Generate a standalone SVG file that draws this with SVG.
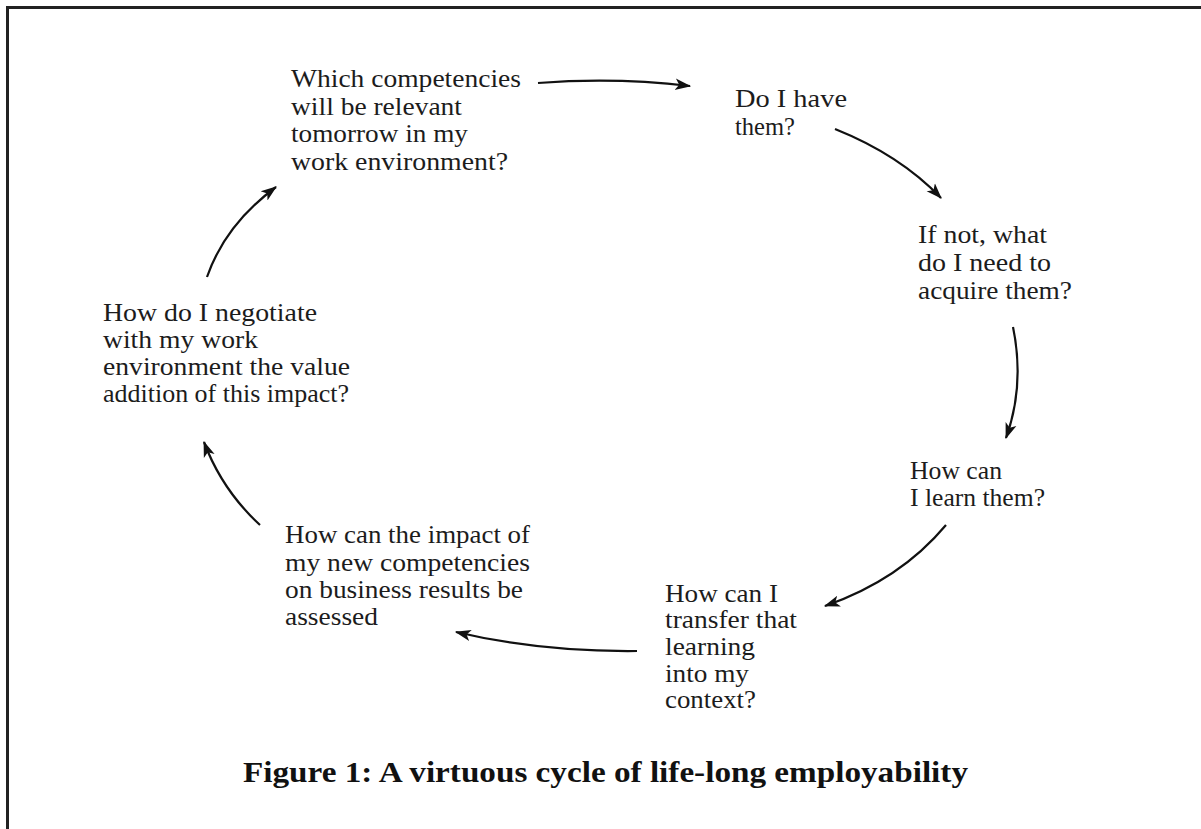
<svg xmlns="http://www.w3.org/2000/svg" width="1201" height="829" viewBox="0 0 1201 829">
<style>
.t{font-family:"Liberation Serif","Times New Roman",serif;font-size:25px;fill:#1c1c1c}
.cap{font-family:"Liberation Serif","Times New Roman",serif;font-size:29px;font-weight:bold;fill:#111}
.c{fill:none;stroke:#111;stroke-width:2.2}
</style>
<defs>
<marker id="ah" markerWidth="16" markerHeight="13" refX="13" refY="5" orient="auto" markerUnits="userSpaceOnUse" viewBox="0 0 14 10">
<path d="M0,0 L14,5 L0,10 L3.5,5 z" fill="#111"/>
</marker>
</defs>
<rect width="1201" height="829" fill="#fff"/>
<g id="border" stroke="#222" stroke-width="3">
<line x1="6" y1="7.5" x2="1201" y2="7.5"/>
<line x1="7.5" y1="6" x2="7.5" y2="829"/>
</g>
<g id="connectors">
<path class="c" d="M538,83 Q615,77 690,86" marker-end="url(#ah)"/>
<path class="c" d="M835,129 Q900,155 941,198" marker-end="url(#ah)"/>
<path class="c" d="M1013,327 Q1025,385 1006,438" marker-end="url(#ah)"/>
<path class="c" d="M946,525 Q900,580 825,606" marker-end="url(#ah)"/>
<path class="c" d="M637,651 Q540,652 456,632" marker-end="url(#ah)"/>
<path class="c" d="M260,525 Q222,490 204,442" marker-end="url(#ah)"/>
<path class="c" d="M207,277 Q225,225 276,187" marker-end="url(#ah)"/>
</g>
<g id="n1">
<text class="t" x="291" y="87" textLength="230" lengthAdjust="spacingAndGlyphs">Which competencies</text>
<text class="t" x="291" y="115" textLength="171" lengthAdjust="spacingAndGlyphs">will be relevant</text>
<text class="t" x="291" y="142" textLength="177" lengthAdjust="spacingAndGlyphs">tomorrow in my</text>
<text class="t" x="291" y="170" textLength="217" lengthAdjust="spacingAndGlyphs">work environment?</text>
</g>
<g id="n2">
<text class="t" x="735" y="107" textLength="112" lengthAdjust="spacingAndGlyphs">Do I have</text>
<text class="t" x="735" y="135" textLength="60" lengthAdjust="spacingAndGlyphs">them?</text>
</g>
<g id="n3">
<text class="t" x="918" y="243" textLength="129" lengthAdjust="spacingAndGlyphs">If not, what</text>
<text class="t" x="918" y="271" textLength="133" lengthAdjust="spacingAndGlyphs">do I need to</text>
<text class="t" x="918" y="299" textLength="154" lengthAdjust="spacingAndGlyphs">acquire them?</text>
</g>
<g id="n4">
<text class="t" x="910" y="479" textLength="92" lengthAdjust="spacingAndGlyphs">How can</text>
<text class="t" x="910" y="506" textLength="135" lengthAdjust="spacingAndGlyphs">I learn them?</text>
</g>
<g id="n5">
<text class="t" x="665" y="602" textLength="113" lengthAdjust="spacingAndGlyphs">How can I</text>
<text class="t" x="665" y="628" textLength="132" lengthAdjust="spacingAndGlyphs">transfer that</text>
<text class="t" x="665" y="655" textLength="90" lengthAdjust="spacingAndGlyphs">learning</text>
<text class="t" x="665" y="682" textLength="84" lengthAdjust="spacingAndGlyphs">into my</text>
<text class="t" x="665" y="708" textLength="91" lengthAdjust="spacingAndGlyphs">context?</text>
</g>
<g id="n6">
<text class="t" x="285" y="543" textLength="245" lengthAdjust="spacingAndGlyphs">How can the impact of</text>
<text class="t" x="285" y="571" textLength="245" lengthAdjust="spacingAndGlyphs">my new competencies</text>
<text class="t" x="285" y="598" textLength="238" lengthAdjust="spacingAndGlyphs">on business results be</text>
<text class="t" x="285" y="625" textLength="93" lengthAdjust="spacingAndGlyphs">assessed</text>
</g>
<g id="n7">
<text class="t" x="103" y="321" textLength="214" lengthAdjust="spacingAndGlyphs">How do I negotiate</text>
<text class="t" x="103" y="348" textLength="155" lengthAdjust="spacingAndGlyphs">with my work</text>
<text class="t" x="103" y="375" textLength="247" lengthAdjust="spacingAndGlyphs">environment the value</text>
<text class="t" x="103" y="402" textLength="246" lengthAdjust="spacingAndGlyphs">addition of this impact?</text>
</g>
<g id="caption">
<text class="cap" x="243" y="782" textLength="725" lengthAdjust="spacingAndGlyphs">Figure 1: A virtuous cycle of life-long employability</text>
</g>
</svg>
